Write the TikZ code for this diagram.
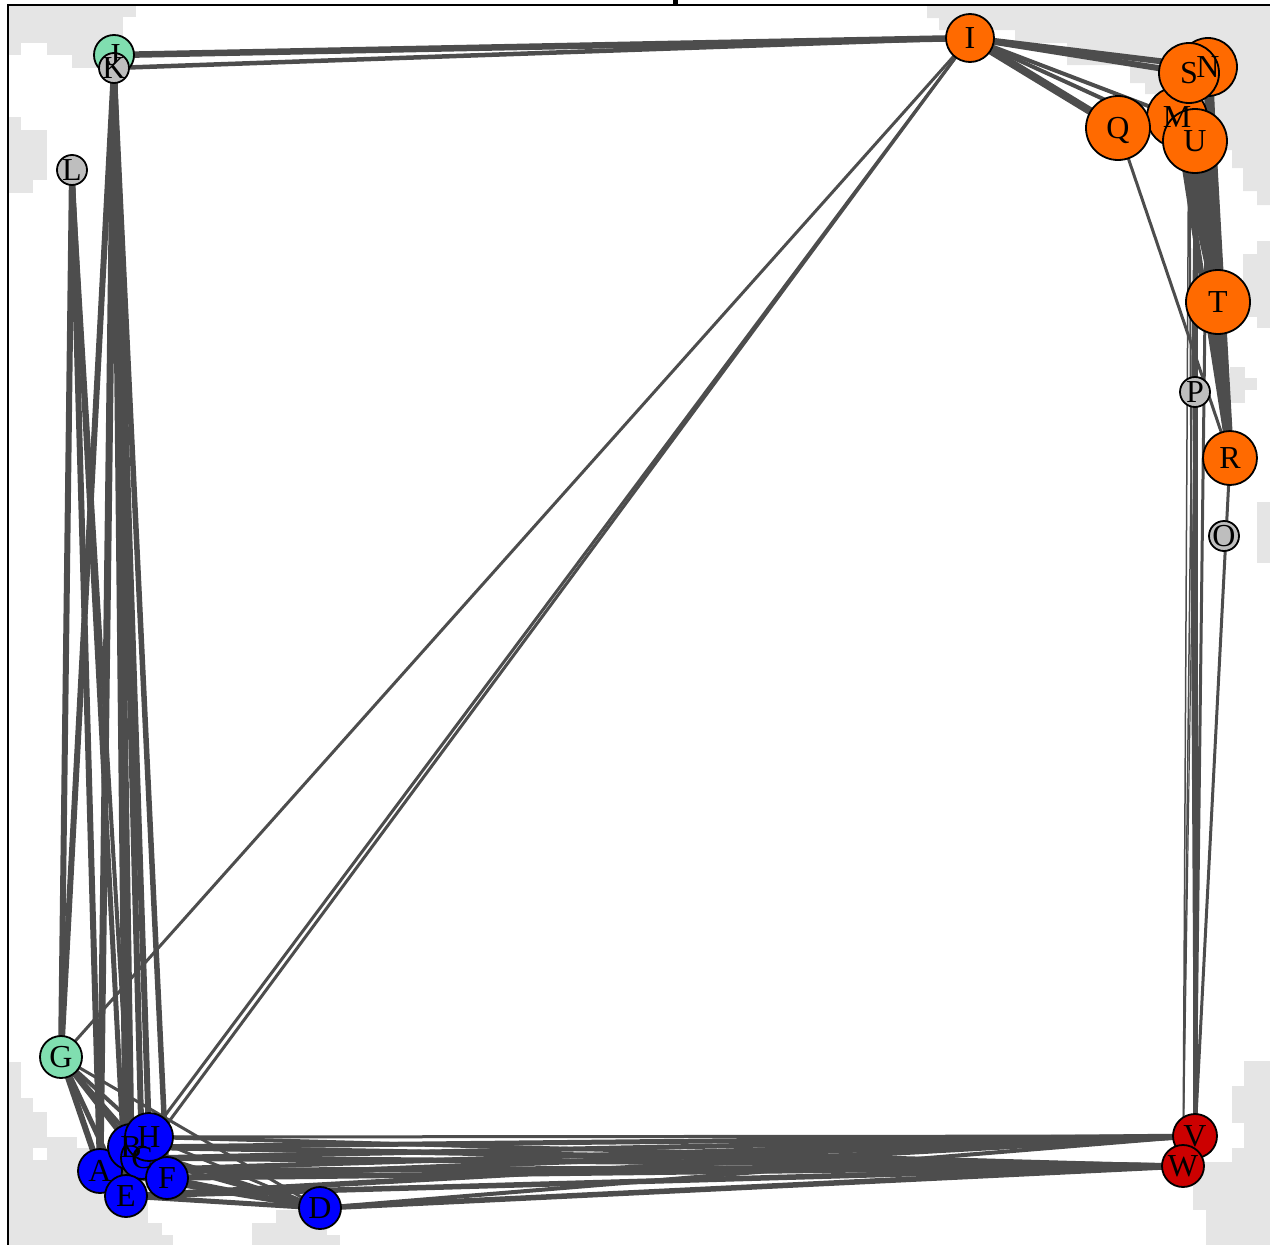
\documentclass[tikz,border=0pt]{standalone}
\usepackage{fontspec}
\setmainfont{Liberation Serif}
\pgfdeclarelayer{bg}
\pgfdeclarelayer{edges}
\pgfsetlayers{bg,edges,main}
\definecolor{hull}{HTML}{E5E5E5}
\definecolor{edgec}{HTML}{4D4D4D}
\definecolor{orng}{HTML}{FF6A00}
\definecolor{grn}{HTML}{80DEB0}
\definecolor{blu}{HTML}{0000FF}
\definecolor{rd}{HTML}{CC0000}
\definecolor{gry}{HTML}{BEBEBE}
\begin{document}
\begin{tikzpicture}[x=1pt,y=-1pt,
  vtx/.style={circle,draw=black,line width=1.8pt,inner sep=0pt,minimum size=#1},
  lbl/.style={inner sep=0pt,text height=21pt,text depth=0pt,font=\fontsize{32}{32}\selectfont},
  ed/.style={draw=edgec,line width=#1},
]
\useasboundingbox (0,0) rectangle (1270,1245);

% vertices (drawn in alphabetical order, later ones on top)
\node[vtx=44pt,fill=blu] (A) at (100,1171) {};
\node[vtx=46pt,fill=blu] (B) at (131,1147) {};
\node[vtx=42pt,fill=blu] (C) at (142,1158) {};
\node[vtx=42pt,fill=blu] (D) at (320,1208) {};
\node[vtx=42pt,fill=blu] (E) at (126,1196) {};
\node[vtx=42pt,fill=blu] (F) at (167,1178) {};
\node[vtx=42pt,fill=grn] (G) at (61,1057) {};
\node[vtx=48pt,fill=blu] (H) at (149,1137) {};
\node[vtx=48pt,fill=orng] (I) at (970,38) {};
\node[vtx=40pt,fill=grn] (J) at (114,55) {};
\node[vtx=30pt,fill=gry] (K) at (114,68) {};
\node[vtx=30pt,fill=gry] (L) at (72,170) {};
\node[vtx=60pt,fill=orng] (M) at (1177,117) {};
\node[vtx=58pt,fill=orng] (N) at (1208,67) {};
\node[vtx=30pt,fill=gry] (O) at (1224,536) {};
\node[vtx=30pt,fill=gry] (P) at (1195,392) {};
\node[vtx=64pt,fill=orng] (Q) at (1118,128) {};
\node[vtx=54pt,fill=orng] (R) at (1230,458) {};
\node[vtx=60pt,fill=orng] (S) at (1189,73) {};
\node[vtx=64pt,fill=orng] (T) at (1218,302) {};
\node[vtx=64pt,fill=orng] (U) at (1195,141) {};
\node[vtx=44pt,fill=rd] (V) at (1195,1136) {};
\node[vtx=42pt,fill=rd] (W) at (1183,1166) {};

% labels
\foreach \n in {A,B,C,D,E,F,G,H,I,J,K,L,M,N,O,P,Q,R,S,T,U,V,W}
  \node[lbl] (l\n) at (\n.center) {\n};

% background hulls and frame
\begin{pgfonlayer}{bg}
\fill[hull] (8,5) rectangle (136,17);
\fill[hull] (8,17) rectangle (123,43);
\fill[hull] (8,43) rectangle (21,55);
\fill[hull] (47,43) rectangle (123,55);
\fill[hull] (72,55) rectangle (100,68);
\fill[hull] (8,117) rectangle (21,130);
\fill[hull] (8,130) rectangle (47,180);
\fill[hull] (8,180) rectangle (33,193);
\fill[hull] (8,1062) rectangle (21,1098);
\fill[hull] (8,1098) rectangle (33,1112);
\fill[hull] (8,1112) rectangle (47,1137);
\fill[hull] (8,1137) rectangle (77,1148);
\fill[hull] (8,1148) rectangle (33,1160);
\fill[hull] (47,1148) rectangle (100,1160);
\fill[hull] (8,1160) rectangle (148,1223);
\fill[hull] (8,1223) rectangle (162,1235);
\fill[hull] (8,1235) rectangle (173,1245);
\fill[hull] (252,1223) rectangle (276,1245);
\fill[hull] (276,1210) rectangle (327,1245);
\fill[hull] (327,1235) rectangle (340,1245);
\fill[hull] (1244,1061) rectangle (1270,1086);
\fill[hull] (1232,1086) rectangle (1270,1123);
\fill[hull] (1244,1123) rectangle (1270,1148);
\fill[hull] (1232,1148) rectangle (1270,1162);
\fill[hull] (1193,1162) rectangle (1270,1210);
\fill[hull] (1206,1210) rectangle (1270,1245);
\fill[hull] (1257,241) rectangle (1270,254);
\fill[hull] (1243,254) rectangle (1270,317);
\fill[hull] (1257,317) rectangle (1270,328);
\fill[hull] (1230,367) rectangle (1245,403);
\fill[hull] (1245,378) rectangle (1257,390);
\fill[hull] (1257,502) rectangle (1270,563);
\fill[hull] (927,5) -- (1270,5) -- (1270,205) -- (1257,205) -- (1257,191) -- (1243,191)
  -- (1243,168) -- (1232,168) -- (1232,150) -- (1213,150) -- (1213,94) -- (1145,94)
  -- (1145,83) -- (1130,83) -- (1130,65) -- (1067,65) -- (1067,43) -- (1015,43)
  -- (1015,30) -- (939,30) -- (939,18) -- (927,18) -- cycle;
\draw[line width=2pt] (8,1245) -- (8,5) -- (1270,5);
\fill (673,0) rectangle (678,5);
\end{pgfonlayer}

% edges
\begin{pgfonlayer}{edges}
\foreach \a/\b/\w in {J/I/6.5, K/I/4.5,
  K/A/7, K/B/7, K/C/6, K/E/6, K/F/5.5, K/H/6, K/G/6,
  L/G/6, L/A/6, L/E/5, L/B/4,
  G/A/6, G/E/5, G/B/5, G/C/4, G/H/4, G/F/4, G/D/3,
  G/I/3, I/H/3, I/C/3,
  H/D/3, A/D/5, E/D/5, F/D/5, C/D/4, B/D/4,
  H/V/3, B/V/5, C/V/5, A/V/5, E/V/5.5, F/V/5.5, D/V/4,
  H/W/4, B/W/5.5, C/W/5.5, A/W/5.5, E/W/5.5, F/W/5.5, D/W/5.5,
  I/N/6, I/S/6, I/Q/8, I/M/4, I/U/4,
  U/T/15, M/T/10, S/T/9, N/T/10, N/R/8, S/R/7, U/R/8, M/R/6,
  Q/R/3, R/V/3,
  U/V/5, N/V/3, S/V/2, S/W/1.5, U/W/1.5, P/V/1.5, P/W/1.2}
  \draw[ed=\w pt] (\a.center) -- (\b.center);
\end{pgfonlayer}
\end{tikzpicture}
\end{document}
